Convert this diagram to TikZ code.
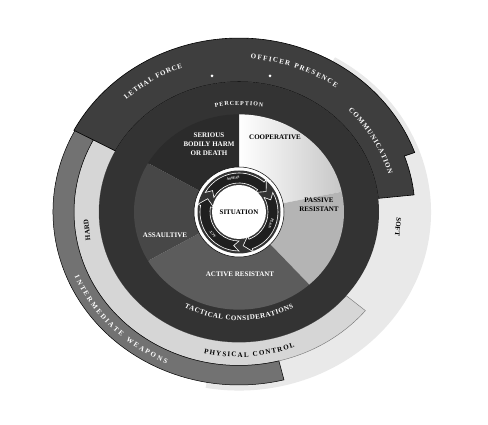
\documentclass[tikz,border=0pt]{standalone}
\usepackage{fontspec}
\setmainfont{Liberation Serif}
\usetikzlibrary{decorations.text}
\definecolor{softc}{HTML}{E9E9E9}
\definecolor{hardc}{HTML}{D6D6D6}
\definecolor{intc}{HTML}{727272}
\definecolor{topc}{HTML}{3E3E3E}
\definecolor{ringc}{HTML}{333333}
\definecolor{serc}{HTML}{2B2B2B}
\definecolor{assc}{HTML}{474747}
\definecolor{actc}{HTML}{5C5C5C}
\definecolor{pasc}{HTML}{B4B4B4}
\newcommand\lbl{\fontsize{7}{9}\selectfont\bfseries}
\newcommand\smlbl{\fontsize{6}{7}\selectfont\bfseries}
\newcommand\tinylbl{\fontsize{3.6}{4}\selectfont\bfseries}
\newcommand\ringsec[5]{%
  \pgfmathsetmacro\ryin{0.93*#4}%
  \pgfmathsetmacro\ryout{0.93*#5}%
  \path[#1] (#2:#5pt and \ryout pt) arc[start angle=#2,end angle=#3,x radius=#5pt,y radius=\ryout pt]
    -- (#3:#4pt and \ryin pt) arc[start angle=#3,end angle=#2,x radius=#4pt,y radius=\ryin pt] -- cycle;}
\newcommand\wedgesec[3]{%
  \path[#1] (0,0) -- (#2:105pt and 97.65pt) arc[start angle=#2,end angle=#3,x radius=105pt,y radius=97.65pt] -- cycle;}
\newcommand\arctext[6][\lbl]{%
  \pgfmathsetmacro\ryt{0.93*#5}%
  \path[decorate,decoration={text along path,text align={fit to path},text={|#1\color{#2}|#6}}]
    (#3:#5pt and \ryt pt) arc[start angle=#3,end angle=#4,x radius=#5pt,y radius=\ryt pt];}
\newcommand\carrow[2]{%
  \pgfmathsetmacro\tipang{#2-13}%
  \pgfmathsetmacro\notchang{#1-9}%
  \path[fill=black!88,draw=white,line width=0.6pt] (#1:39pt) arc[start angle=#1,end angle=#2,radius=39pt]
    -- (#2:42.5pt) -- (\tipang:34pt) -- (#2:25.5pt) -- (#2:29pt)
    arc[start angle=#2,end angle=#1,radius=29pt] -- (\notchang:34pt) -- cycle;}
\tikzset{
  lblw/.style={font=\lbl,text=white,inner sep=1pt},
  lblb/.style={font=\lbl,text=black,inner sep=1pt},
  tinyw/.style={font=\tinylbl,text=white,inner sep=0.3pt},
}
\begin{document}
\begin{tikzpicture}[x=1pt,y=1pt]
\useasboundingbox (0,0) rectangle (488,425);
\fill[white] (0,0) rectangle (488,425);
\begin{scope}[shift={(239,213)}]
  % outer bands
  \ringsec{fill=softc}{60}{-100}{140}{192}
  \ringsec{fill=hardc,draw=black!55,line width=0.4pt}{152}{320}{140}{165}
  \ringsec{fill=intc,draw=black,line width=0.5pt}{150}{284}{165}{186}
  \path[fill=topc,draw=black,line width=0.6pt]
    (152:187pt and 173.91pt) arc[start angle=152,end angle=20,x radius=187pt,y radius=173.91pt]
    -- (20:176pt and 163.68pt) arc[start angle=20,end angle=6,x radius=176pt,y radius=163.68pt]
    -- (6:140pt and 130.2pt) arc[start angle=6,end angle=152,x radius=140pt,y radius=130.2pt] -- cycle;
  % perception ring
  \ringsec{fill=ringc}{0}{360}{104}{140}
  % behaviour wedges
  \wedgesec{left color=white,right color=pasc!75!white}{90}{12}
  \wedgesec{fill=pasc}{12}{-48}
  \wedgesec{fill=actc}{-48}{-150}
  \wedgesec{fill=assc}{210}{150}
  \wedgesec{fill=serc}{150}{90}
  % dots
  \fill[white] (-27,136) circle (1.5pt);
  \fill[white] (31,136) circle (1.5pt);
  % center
  \fill[white] (0,0) circle (45pt);
  \draw[black,line width=0.5pt] (0,0) circle (45pt);
  \fill[black!80] (0,0) circle (41.5pt);
  \carrow{150}{50}
  \carrow{30}{-70}
  \carrow{-90}{-190}
  \fill[white] (0,0) circle (27pt);
  \node[tinyw,rotate=10] (assess) at (100:34pt) {ASSESS};
  \node[tinyw,rotate=-110] (plan) at (-20:34pt) {PLAN};
  \node[tinyw,rotate=130] (act) at (-140:34pt) {ACT};
  % labels following the rings
  \arctext{white}{133}{110}{165}{LETHAL FORCE}
  \arctext{white}{86}{54}{165}{OFFICER PRESENCE}
  \arctext{white}{45}{15}{154.5}{COMMUNICATION}
  \arctext[\smlbl]{white}{102}{78}{115}{PERCEPTION}
  \arctext{white}{-118}{-62}{116.5}{TACTICAL CONSIDERATIONS}
  \arctext{black}{-103}{-69}{156}{PHYSICAL CONTROL}
  \arctext{white}{203}{246}{178.5}{INTERMEDIATE WEAPONS}
  % straight labels
  \node[lblw,align=center] (serious) at (-30,68) {SERIOUS\\BODILY HARM\\OR DEATH};
  \node[lblb] (coop) at (36,75) {COOPERATIVE};
  \node[lblb,align=center] (passive) at (80,7) {PASSIVE\\RESISTANT};
  \node[lblw] (assault) at (-74,-23) {ASSAULTIVE};
  \node[lblw] (active) at (1,-62) {ACTIVE RESISTANT};
  \node[lblb] (sit) at (0,0) {SITUATION};
  \node[lblb,rotate=96] (hard) at (-152,-18) {HARD};
  \node[lblb,rotate=-96] (soft) at (159,-15) {SOFT};
\end{scope}
\end{tikzpicture}
\end{document}
